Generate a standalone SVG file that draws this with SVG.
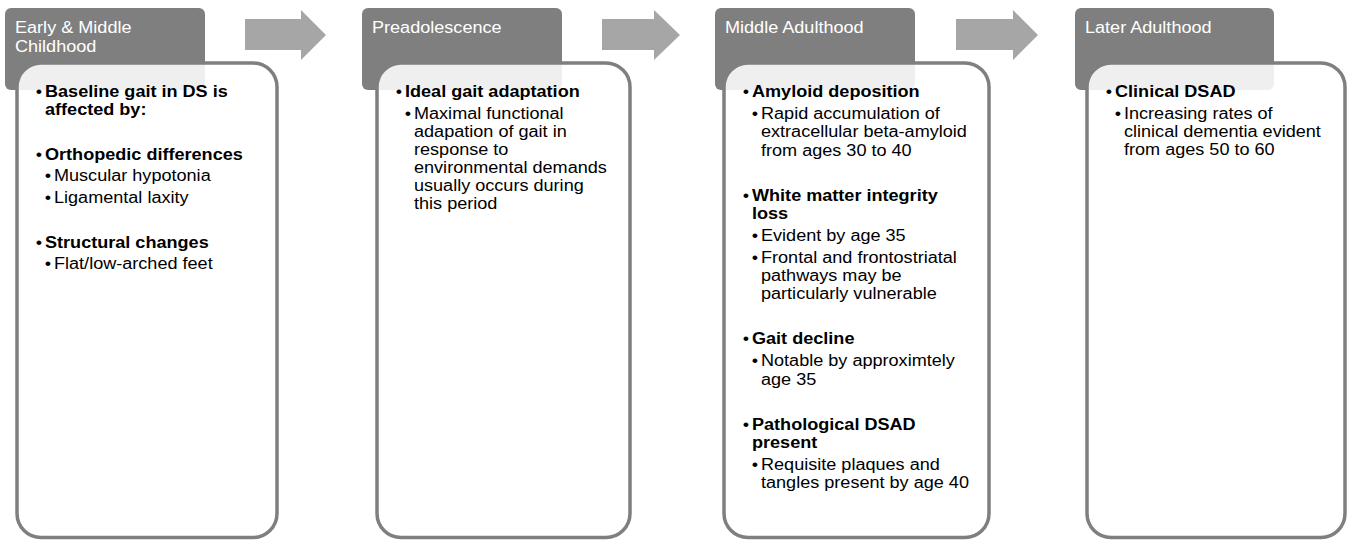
<svg xmlns="http://www.w3.org/2000/svg" width="1350" height="540" viewBox="0 0 1350 540">
<style>
.hdr{fill:#7f7f7f}
.card{fill:#ffffff;fill-opacity:0.88;stroke:#7f7f7f;stroke-width:3.5}
.arrow{fill:#a6a6a6}
text{font-family:"Liberation Sans",Arial,Helvetica,sans-serif;font-size:16px}
.ht{fill:#ffffff}
.t{fill:#000000}
.b{font-weight:bold}
.bu{fill:#000000;text-anchor:middle}
</style>
<rect width="1350" height="540" fill="#ffffff"/>
<g id="connectors">
<polygon class="arrow" points="245,19 301,19 301,10 326,35 301,60 301,50 245,50"/>
<polygon class="arrow" points="602,19 654,19 654,10 680,35 654,60 654,50 602,50"/>
<polygon class="arrow" points="956,19 1013,19 1013,10 1038,35 1013,60 1013,50 956,50"/>
</g>
<g id="node-early-childhood">
<rect class="hdr" x="5" y="8" width="200" height="82" rx="6"/>
<rect class="card" x="17" y="63" width="260" height="474.5" rx="24"/>
<g transform="translate(5 0) scale(1.13 1)">
<text class="ht" x="8.85" y="33">Early &amp; Middle</text>
<text class="ht" x="8.85" y="52">Childhood</text>
</g>
<g transform="translate(17 0) scale(1.13 1)">
<text class="bu" x="19.47" y="97">•</text>
<text class="t b" x="24.78" y="97">Baseline gait in DS is</text>
<text class="t b" x="24.78" y="115">affected by:</text>
<text class="bu" x="19.47" y="160">•</text>
<text class="t b" x="24.78" y="160">Orthopedic differences</text>
<text class="bu" x="27.43" y="181.5">•</text>
<text class="t" x="32.74" y="181.5">Muscular hypotonia</text>
<text class="bu" x="27.43" y="203">•</text>
<text class="t" x="32.74" y="203">Ligamental laxity</text>
<text class="bu" x="19.47" y="248">•</text>
<text class="t b" x="24.78" y="248">Structural changes</text>
<text class="bu" x="27.43" y="269">•</text>
<text class="t" x="32.74" y="269">Flat/low-arched feet</text>
</g>
</g>
<g id="node-preadolescence">
<rect class="hdr" x="362" y="8" width="200" height="82" rx="6"/>
<rect class="card" x="377" y="63" width="253" height="474.5" rx="24"/>
<g transform="translate(362 0) scale(1.13 1)">
<text class="ht" x="8.85" y="33">Preadolescence</text>
</g>
<g transform="translate(377 0) scale(1.13 1)">
<text class="bu" x="19.47" y="97">•</text>
<text class="t b" x="24.78" y="97">Ideal gait adaptation</text>
<text class="bu" x="27.43" y="119">•</text>
<text class="t" x="32.74" y="119">Maximal functional</text>
<text class="t" x="32.74" y="137">adapation of gait in</text>
<text class="t" x="32.74" y="155">response to</text>
<text class="t" x="32.74" y="173">environmental demands</text>
<text class="t" x="32.74" y="191">usually occurs during</text>
<text class="t" x="32.74" y="209">this period</text>
</g>
</g>
<g id="node-middle-adulthood">
<rect class="hdr" x="715" y="8" width="200" height="82" rx="6"/>
<rect class="card" x="724" y="63" width="265" height="474.5" rx="24"/>
<g transform="translate(715 0) scale(1.13 1)">
<text class="ht" x="8.85" y="33">Middle Adulthood</text>
</g>
<g transform="translate(724 0) scale(1.13 1)">
<text class="bu" x="19.47" y="97">•</text>
<text class="t b" x="24.78" y="97">Amyloid deposition</text>
<text class="bu" x="27.43" y="119">•</text>
<text class="t" x="32.74" y="119">Rapid accumulation of</text>
<text class="t" x="32.74" y="137.3">extracellular beta-amyloid</text>
<text class="t" x="32.74" y="155.6">from ages 30 to 40</text>
<text class="bu" x="19.47" y="200.6">•</text>
<text class="t b" x="24.78" y="200.6">White matter integrity</text>
<text class="t b" x="24.78" y="218.9">loss</text>
<text class="bu" x="27.43" y="240.9">•</text>
<text class="t" x="32.74" y="240.9">Evident by age 35</text>
<text class="bu" x="27.43" y="262.9">•</text>
<text class="t" x="32.74" y="262.9">Frontal and frontostriatal</text>
<text class="t" x="32.74" y="281.2">pathways may be</text>
<text class="t" x="32.74" y="299.5">particularly vulnerable</text>
<text class="bu" x="19.47" y="344.5">•</text>
<text class="t b" x="24.78" y="344.5">Gait decline</text>
<text class="bu" x="27.43" y="366.5">•</text>
<text class="t" x="32.74" y="366.5">Notable by approximtely</text>
<text class="t" x="32.74" y="384.8">age 35</text>
<text class="bu" x="19.47" y="429.8">•</text>
<text class="t b" x="24.78" y="429.8">Pathological DSAD</text>
<text class="t b" x="24.78" y="448.1">present</text>
<text class="bu" x="27.43" y="470.1">•</text>
<text class="t" x="32.74" y="470.1">Requisite plaques and</text>
<text class="t" x="32.74" y="488.4">tangles present by age 40</text>
</g>
</g>
<g id="node-later-adulthood">
<rect class="hdr" x="1075" y="8" width="199" height="82" rx="6"/>
<rect class="card" x="1087" y="63" width="258" height="474.5" rx="24"/>
<g transform="translate(1075 0) scale(1.13 1)">
<text class="ht" x="8.85" y="33">Later Adulthood</text>
</g>
<g transform="translate(1087 0) scale(1.13 1)">
<text class="bu" x="19.47" y="97">•</text>
<text class="t b" x="24.78" y="97">Clinical DSAD</text>
<text class="bu" x="27.43" y="119">•</text>
<text class="t" x="32.74" y="119">Increasing rates of</text>
<text class="t" x="32.74" y="137">clinical dementia evident</text>
<text class="t" x="32.74" y="155">from ages 50 to 60</text>
</g>
</g>
</svg>
